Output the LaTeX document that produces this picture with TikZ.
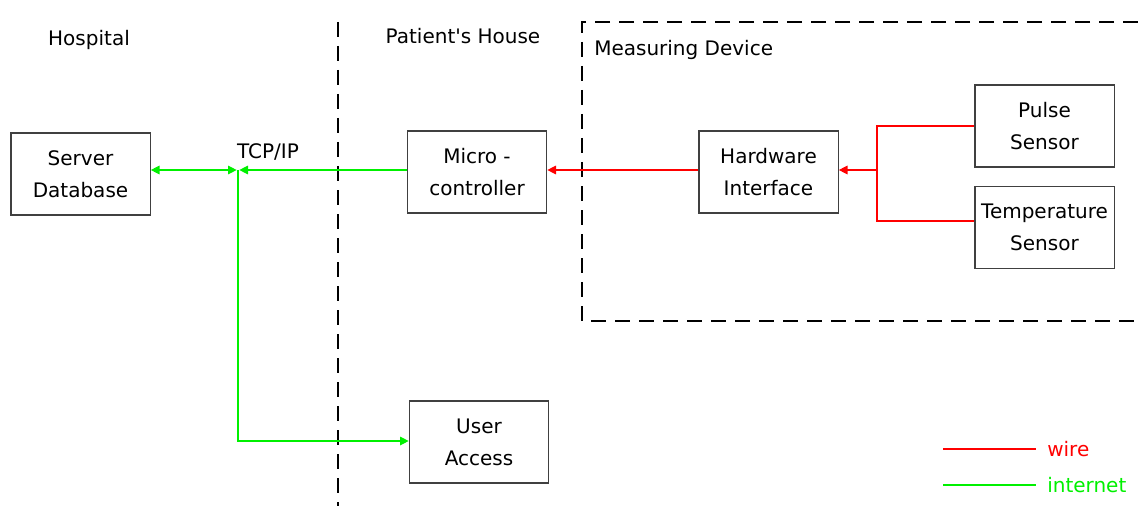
\documentclass[tikz,border=0pt]{standalone}
\usepackage{fontspec}
\setmainfont{DejaVu Sans}[Ligatures=NoCommon]
\usetikzlibrary{arrows.meta}
\definecolor{wirered}{RGB}{255,0,0}
\definecolor{netgreen}{RGB}{0,240,0}
\tikzset{
  blockbox/.style={draw=black!75, line width=1pt, fill=white, align=center,
    minimum width=104.5pt, minimum height=61.5pt, inner sep=0pt,
    font=\fontsize{15}{24}\selectfont},
  label/.style={font=\fontsize{15}{17}\selectfont, inner sep=0pt},
  border/.style={line width=2pt, dash pattern=on 11pt off 7pt},
  wire/.style={draw=wirered, line width=0.9pt},
  net/.style={draw=netgreen, line width=0.9pt},
  tip/.style={-{Triangle[length=6.5pt,width=6.5pt]}}
}
\begin{document}
\begin{tikzpicture}[x=0.75pt,y=-0.75pt]
\useasboundingbox (0,0) rectangle (1138,506);

% area boundaries
\draw[border] (338,22) -- (338,506);
\draw[border] (1138,22) -- (582,22) -- (582,321) -- (1138,321);

% area titles
\node[label] (hosp) at (89,40) {Hospital};
\node[label] (house) at (463,36) {Patient\textquotesingle s House};
\node[label, anchor=west] (dev) at (594,50) {Measuring Device};

% blocks
\node[blockbox] (server) at (80.5,174) {Server\\Database};
\node[blockbox] (micro) at (477,172) {Micro -\\controller};
\node[blockbox] (hw) at (768.5,172) {Hardware\\Interface};
\node[blockbox] (pulse) at (1044.5,126) {Pulse\\Sensor};
\node[blockbox] (temp) at (1044.5,227.5) {Temperature\\Sensor};
\node[blockbox] (user) at (479,442) {User\\Access};

\node[label] (tcp) at (268,152) {TCP/IP};

% internet links: server <-> junction <- micro, junction -> user
\coordinate (j) at (238,170);
\draw[net, {Triangle[length=6.5pt,width=6.5pt]}-{Triangle[length=6.5pt,width=6.5pt]}] (j -| server.east) -- ([xshift=-1pt]j);
\draw[net, tip] (j -| micro.west) -- ([xshift=1pt]j);
\draw[net, tip] (j) |- (user.west |- 0,441);

% wires
\coordinate (split) at (877,170);
\draw[wire, tip] (hw.west |- j) -- (micro.east |- j);
\draw[wire] (pulse.west) -| (split) |- (temp.west |- 0,221);
\draw[wire, tip] (split) -- (hw.east |- split);

% legend
\coordinate (wa) at (943,449);
\coordinate (wb) at (1036,449);
\coordinate (na) at (943,485);
\coordinate (nb) at (1036,485);
\draw[wire] (wa) -- (wb);
\draw[net] (na) -- (nb);
\node[label, text=wirered, anchor=west] (wirelbl) at (1047,449) {wire};
\node[label, text=netgreen, anchor=west] (netlbl) at (1047,485) {internet};
\end{tikzpicture}
\end{document}
